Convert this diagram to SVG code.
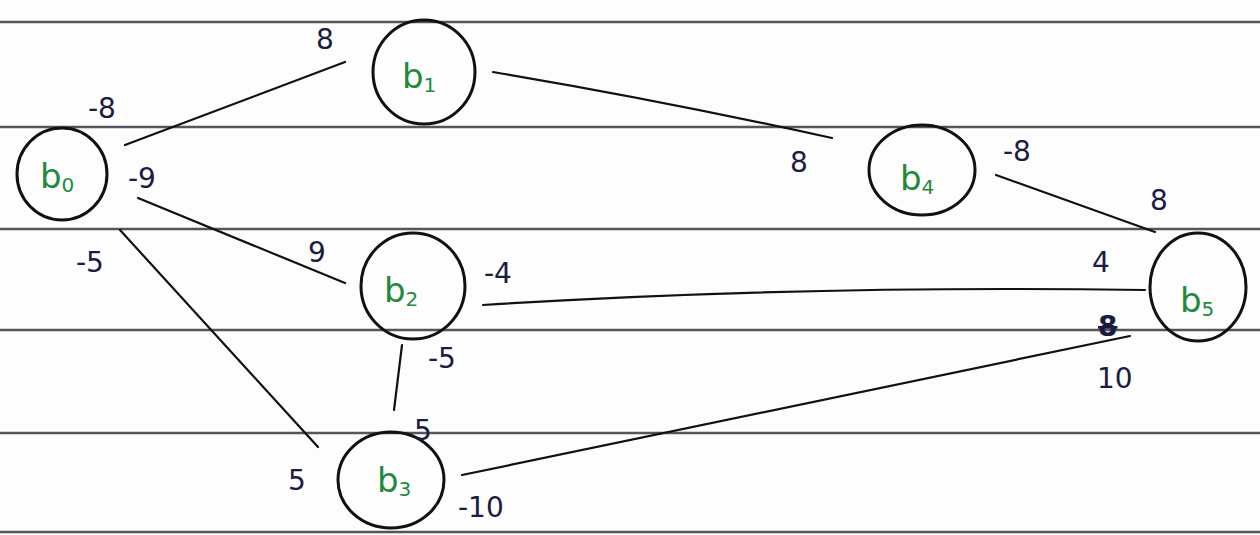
<svg xmlns="http://www.w3.org/2000/svg" width="1260" height="535" viewBox="0 0 1260 535">
<style>
.rule{stroke:#55555d;stroke-width:2.5}
.node{fill:none;stroke:#111;stroke-width:3}
.lbl{font-family:"DejaVu Sans",sans-serif;font-size:34px;fill:#1f8a3c}
.sub{font-size:20px}
.w{font-family:"DejaVu Sans",sans-serif;font-size:28px;fill:#1c1c40}
.edge{fill:none;stroke:#111;stroke-width:2.2;stroke-linecap:round}
</style>
<rect width="1260" height="535" fill="#fdfdfd"/>
<g id="paper">
<line class="rule" x1="0" y1="22" x2="1260" y2="22"/>
<line class="rule" x1="0" y1="127" x2="1260" y2="127"/>
<line class="rule" x1="0" y1="229" x2="1260" y2="229"/>
<line class="rule" x1="0" y1="330" x2="1260" y2="330"/>
<line class="rule" x1="0" y1="433" x2="1260" y2="433"/>
<line class="rule" x1="0" y1="532" x2="1260" y2="532"/>
</g>
<g id="connectors">
<path class="edge" d="M125,145 L345,62"/>
<path class="edge" d="M493,72 Q660,100 832,138"/>
<path class="edge" d="M138,198 L345,283"/>
<path class="edge" d="M120,230 L318,447"/>
<path class="edge" d="M996,175 L1155,232"/>
<path class="edge" d="M483,305 Q800,285 1145,290"/>
<path class="edge" d="M402,345 L394,410"/>
<path class="edge" d="M462,475 L1130,336"/>
</g>
<g id="b0"><ellipse class="node" cx="62" cy="174" rx="45" ry="46"/><text class="lbl" x="40" y="188">b<tspan class="sub" dy="4">0</tspan></text></g>
<g id="b1"><ellipse class="node" cx="424" cy="72" rx="51" ry="52"/><text class="lbl" x="402" y="88">b<tspan class="sub" dy="4">1</tspan></text></g>
<g id="b2"><ellipse class="node" cx="413" cy="286" rx="52" ry="53"/><text class="lbl" x="384" y="302">b<tspan class="sub" dy="4">2</tspan></text></g>
<g id="b3"><ellipse class="node" cx="391" cy="480" rx="53" ry="48"/><text class="lbl" x="377" y="492">b<tspan class="sub" dy="4">3</tspan></text></g>
<g id="b4"><ellipse class="node" cx="922" cy="170" rx="53" ry="45"/><text class="lbl" x="900" y="190">b<tspan class="sub" dy="4">4</tspan></text></g>
<g id="b5"><ellipse class="node" cx="1198" cy="287" rx="48" ry="54"/><text class="lbl" x="1180" y="312">b<tspan class="sub" dy="4">5</tspan></text></g>
<g id="weights">
<text class="w" x="316" y="49">8</text>
<text class="w" x="88" y="118">-8</text>
<text class="w" x="128" y="188">-9</text>
<text class="w" x="76" y="272">-5</text>
<text class="w" x="308" y="262">9</text>
<text class="w" x="790" y="172">8</text>
<text class="w" x="1003" y="161">-8</text>
<text class="w" x="1150" y="210">8</text>
<text class="w" x="1092" y="272">4</text>
<text class="w" x="484" y="283">-4</text>
<text class="w" x="428" y="368">-5</text>
<text class="w" x="414" y="440">5</text>
<text class="w" x="288" y="490">5</text>
<text class="w" x="458" y="517">-10</text>
<text class="w" x="1097" y="388">10</text>
<text class="w" x="1098" y="336" text-decoration="line-through" style="font-weight:bold">8</text>
</g>
</svg>
